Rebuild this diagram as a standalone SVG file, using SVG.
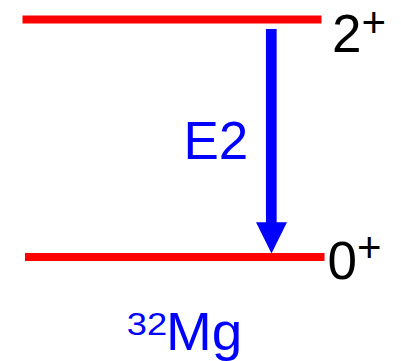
<svg xmlns="http://www.w3.org/2000/svg" width="401" height="361" viewBox="0 0 401 361">
<style>
.lvl{stroke:#ff0000;stroke-width:8;fill:none}
.t{font-family:"Liberation Sans",Arial,sans-serif;font-size:53px}
.sup{font-size:32px}
.k{fill:#000}
.b{fill:#0000ff}
</style>
<rect width="401" height="361" fill="#fff"/>
<g id="level-2plus">
<line class="lvl" x1="22.5" y1="19.5" x2="321.5" y2="19.5"/>
<text class="t k" x="332" y="51.5">2<tspan font-size="42" dy="-15">+</tspan></text>
</g>
<g id="level-0plus">
<line class="lvl" x1="25" y1="257" x2="324.5" y2="257"/>
<text class="t k" x="327.5" y="278.7">0<tspan font-size="42" dy="-16.5">+</tspan></text>
</g>
<g id="connectors">
<line x1="271.3" y1="29" x2="271.3" y2="224" stroke="#0000ff" stroke-width="10.7"/>
<polygon points="256,222.3 287,222.3 271.5,253.5" fill="#0000ff"/>
</g>
<g id="label-e2">
<text class="t b" x="183.5" y="159.3">E2</text>
</g>
<g id="label-mg">
<text class="t sup b" x="126.8" y="334.5" textLength="40.4" lengthAdjust="spacingAndGlyphs">32</text>
<text class="t b" x="166" y="350" textLength="76.3" lengthAdjust="spacingAndGlyphs">Mg</text>
</g>
</svg>
